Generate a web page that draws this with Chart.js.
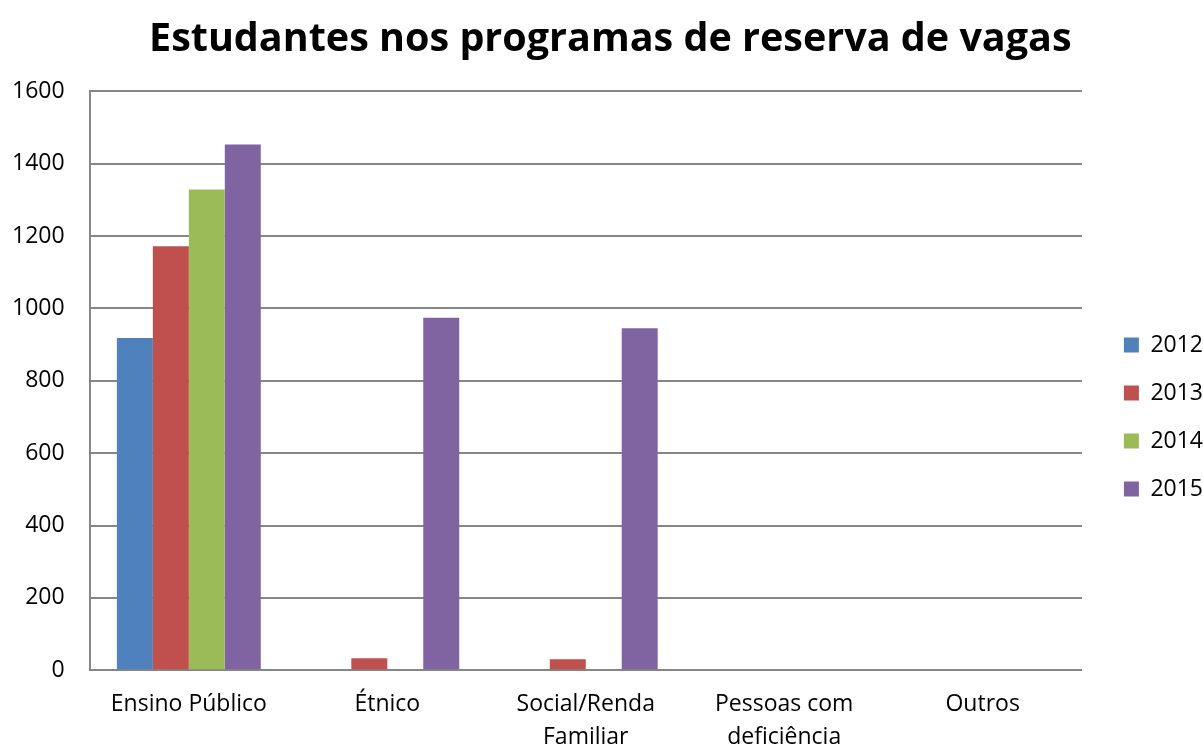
<!DOCTYPE html>
<html>
<head>
<meta charset="utf-8">
<script src="https://cdn.jsdelivr.net/npm/chart.js@4/dist/chart.umd.min.js"></script>
<style>
  html, body { margin: 0; padding: 0; background: #fff; }
  #wrap { width: 1203px; height: 747px; }
</style>
</head>
<body>
<div id="wrap"><canvas id="chart"></canvas></div>
<script>
// categories and values
var categories = ["Ensino Público", "Étnico", ["Social/Renda", "Familiar"], ["Pessoas com", "deficiência"], "Outros"];
var years = ["2012", "2013", "2014", "2015"];
var v2012 = [918, 0, 0, 0, 0];
var v2013 = [1172, 33, 30, 0, 0];
var v2014 = [1329, 0, 0, 0, 0];
var v2015 = [1453, 974, 945, 0, 0];
var yTicks = [0, 200, 400, 600, 800, 1000, 1200, 1400, 1600];

var colors = ["#4f81bd", "#c0504d", "#9bbb59", "#8064a2"];
var series = [v2012, v2013, v2014, v2015];

var datasets = [];
for (var i = 0; i < series.length; i++) {
  datasets.push({
    label: years[i],
    data: series[i],
    backgroundColor: colors[i],
    borderWidth: 0,
    categoryPercentage: 0.725,
    barPercentage: 1.0
  });
}

var font = "'Open Sans', 'DejaVu Sans', sans-serif";

new Chart(document.getElementById("chart").getContext("2d"), {
  type: "bar",
  data: { labels: categories, datasets: datasets },
  options: {
    responsive: true,
    maintainAspectRatio: false,
    animation: false,
    layout: { padding: { top: 0, right: -10, left: -13, bottom: -24 } },
    plugins: {
      title: {
        display: true,
        text: "  Estudantes nos programas de reserva de vagas",
        color: "#000",
        font: { family: font, size: 39.5, weight: "bold" },
        padding: { top: 16, bottom: 28 }
      },
      legend: {
        position: "right",
        title: { display: true, text: " ", font: { size: 10 }, padding: { top: 51, bottom: 0 } },
        labels: {
          color: "#000",
          font: { family: font, size: 23 },
          boxWidth: 15,
          boxHeight: 15,
          padding: 25
        }
      },
      tooltip: { enabled: false }
    },
    scales: {
      x: {
        grid: { display: false, drawTicks: false },
        border: { color: "#868686", width: 2 },
        ticks: { color: "#000", font: { family: font, size: 23, lineHeight: 1.43 }, maxRotation: 0, autoSkip: false, padding: 17.5 }
      },
      y: {
        min: 0,
        max: 1600,
        afterBuildTicks: function (axis) {
          axis.ticks = yTicks.map(function (v) { return { value: v }; });
        },
        grid: { color: "#868686", lineWidth: 2, drawTicks: false },
        border: { color: "#868686", width: 2 },
        ticks: {
          color: "#000",
          font: { family: font, size: 23 },
          padding: 25,
          callback: function (v) { return String(v); }
        }
      },
      // empty spacer between plot and legend
      gap: {
        position: "right",
        type: "linear",
        display: true,
        grid: { display: false, drawTicks: false },
        border: { display: false },
        ticks: { display: false },
        afterFit: function (scale) { scale.width = 17; }
      }
    }
  }
});
</script>
</body>
</html>
